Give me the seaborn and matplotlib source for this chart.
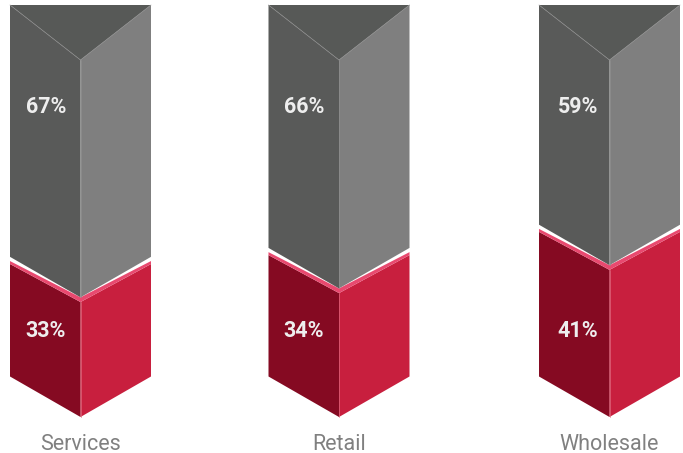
# Stacked 3D style columns: share of grey vs red by sector

import seaborn as sns
import matplotlib.pyplot as plt

categories = ["Services", "Retail", "Wholesale"]
red_labels = [33, 34, 41]
grey_labels = [67, 66, 59]
# heights as drawn in the picture, they differ a bit from the printed labels
red_heights = [32.2, 34.7, 41.2]

# layout
centers = [80.5, 339, 609.5]
label_shift = [34.5, 35, 31.5]
half_width = 70.5
px_per_unit = 3.57
bottom_px = 417
slope = 40.5 / px_per_unit
red_top_rise = 38 / px_per_unit
rim_rise = 41 / px_per_unit
top_slope = 55 / px_per_unit
band = 4.7 / px_per_unit
total = 100

colors = {
    "grey_left": "#595a59", "grey_right": "#7f7f7f", "grey_top": "#575957",
    "red_left": "#850a22", "red_right": "#c81f3e", "pink": "#e8496f",
}

sns.set_theme(style="white")
plt.rcParams["font.family"] = ["Roboto", "DejaVu Sans"]

fig, ax = plt.subplots(figsize=(6.83, 4.53), dpi=100)
ax.set_position([0, 0, 1, 1])
ax.set_xlim(0, 683)
ax.set_ylim(-(453 - bottom_px) / px_per_unit, bottom_px / px_per_unit)
ax.axis("off")


def faces(ax, cx, low, high, left, right, low_rise, high_rise):
    # left and right face of one block, low/high are the heights on the centre line
    l, r = cx - half_width, cx + half_width
    ax.fill([l, cx, cx, l], [low + low_rise, low, high, high + high_rise], color=left, lw=0)
    ax.fill([cx, r, r, cx], [low, low + low_rise, high + high_rise, high], color=right, lw=0)


for cat, h, red_lab, grey_lab, cx, shift in zip(categories, red_heights, red_labels, grey_labels, centers, label_shift):
    l, r = cx - half_width, cx + half_width

    # red block
    faces(ax, cx, 0, h, colors["red_left"], colors["red_right"], slope, red_top_rise)
    # pink rim on top of the red block
    ax.fill([l, cx, r, r, cx, l],
            [h + red_top_rise, h, h + red_top_rise, h + rim_rise, h + band, h + rim_rise],
            color=colors["pink"], lw=0)

    # grey block sits just above the rim, touching it on the centre line
    grey_low = h + band
    faces(ax, cx, grey_low, total, colors["grey_left"], colors["grey_right"], slope, top_slope)
    ax.fill([l, cx, r], [total + top_slope, total, total + top_slope], color=colors["grey_top"], lw=0)
    # thin light seams
    ax.plot([l, cx], [total + top_slope, total], color="#8a8a8a", lw=0.5)
    ax.plot([cx, r], [total, total + top_slope], color="#8f8f8f", lw=0.5)
    ax.plot([cx, cx], [0, h], color="#e06a80", lw=0.5)
    ax.plot([cx, cx], [grey_low, total], color="#8f8f8f", lw=0.5)

    label_x = cx - shift
    ax.text(label_x, (bottom_px - 331) / px_per_unit, f"{red_lab}%", color="#eeeeee",
            fontsize=15.5, fontweight="bold", ha="center", va="center")
    ax.text(label_x, (bottom_px - 107) / px_per_unit, f"{grey_lab}%", color="#eeeeee",
            fontsize=15.5, fontweight="bold", ha="center", va="center")
    ax.text(cx, (bottom_px - 444) / px_per_unit, cat, color="#808080",
            fontsize=15.5, ha="center", va="center")

fig.savefig("out.png", dpi=100)
plt.close(fig)
